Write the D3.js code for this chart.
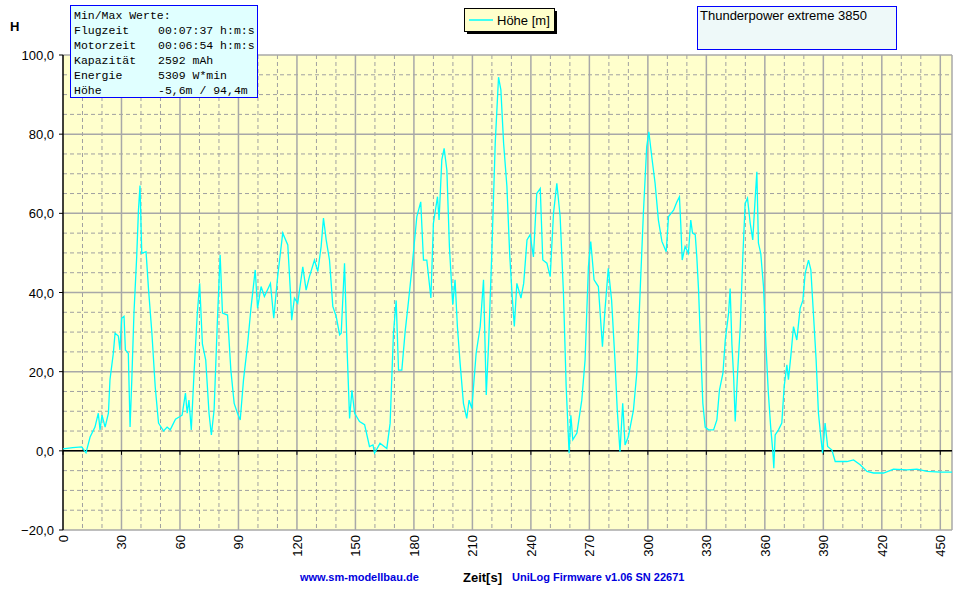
<!DOCTYPE html>
<html>
<head>
<meta charset="utf-8">
<script src="https://d3js.org/d3.v7.min.js"></script>
<style>
body { margin: 0; background: #fff; }
text { font-family: "Liberation Sans", Arial, sans-serif; }
.mono { font-family: "Liberation Mono", "DejaVu Sans Mono", monospace; font-size: 11.5px; }
</style>
</head>
<body>
<svg width="968" height="602"></svg>
<script>
// flight log: time [s] and height [m]
var zeit = [0,5,9.6,11.8,13.9,16.4,18.1,19,20,21.6,23.3,24.1,25.8,26.7,28.4,29.2,30.1,31.3,32,33.5,34.4,35.3,36.4,37.8,38.7,39.5,40.4,42.6,43.9,45.6,47.3,49,51.6,53.4,55,57.7,61.1,62.8,63.7,64.6,65.8,67.2,68.9,70.1,71.5,73.2,74.9,76.1,77.5,79.2,80.6,81.8,84.4,86.1,87.8,89.5,90.9,92.6,94.7,96.4,98.6,99.8,101.6,103.3,106.4,108.1,110.1,112.7,115.3,116.6,117.3,118.7,120.4,123,124.7,126.4,129,130.7,132.4,133.6,135,136.7,138.4,140.1,141.9,142.7,144.4,145.8,147,148.2,149.6,152.1,154.7,157.2,159,159.8,162.6,166.1,167.8,169.5,170.9,172.1,173.8,175.5,177.2,178.9,181.5,183.5,184.9,186.6,188.7,190,192.1,192.9,194.3,195.5,196.9,198.2,199.9,201.1,202.3,203.7,205.4,207.1,208.3,209.7,211.9,214,215.7,217.1,218.3,220,221.7,223.4,224.6,226,227.7,229.1,230.3,231.5,232.8,234.9,236.3,238,239.6,241.3,243,244.8,246.1,248.2,249.9,251.6,253.3,255,256.7,258.1,259.6,260.5,261.5,263.6,266.1,267.8,269.5,270.7,272.4,274.6,276.7,278,279.7,281.4,283.1,284.3,285.7,287.1,288.3,290,292.6,294.3,296,297.7,299.4,300.5,302,303.7,305.4,307.2,309.4,310.6,313.2,314.9,316.2,316.9,317.6,319.1,320.8,322,322.9,324.3,325.1,326,327.2,328.2,329.4,331.1,333.7,335.4,336.7,338.5,339.7,341.4,342.2,343.1,344,344.8,346,347.4,348.7,349.9,351.1,352.5,353.8,355,355.9,356.7,357.9,359.3,360.6,361.8,363,364.1,364.6,365.3,367,368.7,369.9,371.3,372.1,373.3,374.7,376.4,378.1,379.5,380.7,382.4,383.6,385,386.3,387.5,388.7,389.6,390.9,392.2,394.4,396.1,398.7,402.1,405.5,408.9,412.4,415.8,420.9,426,432.9,438,443.2,450,456];
var hoehe = [0.5,0.8,1,-0.5,3.5,6,9.5,5.3,9,6,9.5,18,24.6,29.7,29,25.5,33.5,34,25.5,24.6,6,18,34.8,49,60.8,67,49.9,50.3,40.6,29.7,16.2,7,5,6,5.3,8,9,14.6,9.5,12.8,5.3,19.6,34.8,42.3,27,23,9.5,4,10.3,33,49.5,34.8,34.3,20.4,12,9.5,7.8,18,27,36,45.7,36,41.5,39,42.3,33.5,44,55,52,40.6,33,38.6,37.3,46.5,40.6,44,48.2,45.3,51.6,58.8,53.3,48.2,36.5,34,29.3,29.7,47.4,24.6,8.2,15.3,9.5,7.4,6.6,1.1,1.5,-0.6,1.9,0.6,7,29.7,38,20.4,20.4,30.1,37.7,45.7,59.2,62.9,48.2,48.2,38.6,57.5,64.2,58.3,73.5,76.4,70.9,51.6,36.9,43.2,31.4,22.1,12,8.2,12.8,10.7,24.6,31.4,43.2,14.1,27,50.8,77.7,94.4,91.2,77.7,66.8,49.9,39.8,31.4,42.3,38.6,42.3,53.3,54.6,49,65,66.3,48.2,47.4,44,60,67.6,59.2,39.8,16.2,-0.6,9,2.8,4.5,12.8,23,46.5,52.9,43.2,41.5,26.3,35.6,46.1,38,23,10.3,-0.2,12,1.5,3.6,10.3,19.6,39.8,60,76.8,80.6,74.3,67.6,58.3,52.9,50.3,59.2,60.8,62.9,64.2,57,48.2,51.6,49.9,58.3,55,54.6,49,40.6,24.6,12,6,5.3,5.3,7.8,15.3,19.6,28,34.8,41,27,18.7,7.4,19.6,31.4,49,62.5,63.8,57.5,53.3,63.4,70.5,52.5,49.9,41.5,26.3,14.6,6,-0.2,-4.4,4,5.3,7,16.2,21.7,18,23.8,31.4,28,36,38,44.9,48.2,45.7,34,23,9.5,3.6,-0.6,7,1.1,0.2,-2.7,-2.7,-2.7,-2.3,-3.5,-5.2,-5.6,-5.6,-4.6,-4.8,-4.6,-5.2,-5.4,-5.4];
var xTicks = [0,30,60,90,120,150,180,210,240,270,300,330,360,390,420,450];
var yTicks = [-20,0,20,40,60,80,100];
var infoLabels = ["Flugzeit","Motorzeit","Kapazität","Energie","Höhe"];
var infoValues = ["00:07:37 h:m:s","00:06:54 h:m:s","2592 mAh","5309 W*min","-5,6m / 94,4m"];

var svg = d3.select("svg");
var L = 63, R = 952, T = 55, B = 530;
var x = d3.scaleLinear().domain([0, 456]).range([L, R]);
var y = d3.scaleLinear().domain([-20, 100]).range([B, T]);

svg.append("rect").attr("x", L).attr("y", T).attr("width", R - L).attr("height", B - T).attr("fill", "#ffffcc");

// minor grid
var g = svg.append("g");
g.selectAll(".mx").data(d3.range(10, 456, 10).filter(d => d % 30 != 0)).enter().append("line")
    .attr("x1", d => x(d)).attr("x2", d => x(d)).attr("y1", T).attr("y2", B)
    .attr("stroke", "#a0a0a0").attr("stroke-dasharray", "4,3");
g.selectAll(".my").data(d3.range(-15, 100, 5).filter(d => d % 20 != 0)).enter().append("line")
    .attr("y1", d => y(d)).attr("y2", d => y(d)).attr("x1", L).attr("x2", R)
    .attr("stroke", "#a0a0a0").attr("stroke-dasharray", "4,3");
// major grid
g.selectAll(".Mx").data(xTicks.slice(1)).enter().append("line")
    .attr("x1", d => x(d)).attr("x2", d => x(d)).attr("y1", T).attr("y2", B)
    .attr("stroke", "#a8a8a8").attr("stroke-width", 1.5);
g.selectAll(".My").data(yTicks).enter().append("line")
    .attr("y1", d => y(d)).attr("y2", d => y(d)).attr("x1", L).attr("x2", R)
    .attr("stroke", "#a8a8a8").attr("stroke-width", 1.5);
svg.append("line").attr("x1", R).attr("x2", R).attr("y1", T).attr("y2", B).attr("stroke", "#a8a8a8").attr("stroke-width", 1.5);

// zero line + left axis
svg.append("line").attr("x1", L).attr("x2", R).attr("y1", y(0)).attr("y2", y(0)).attr("stroke", "#000").attr("stroke-width", 1.5);
svg.selectAll(".xt").data(xTicks).enter().append("line")
    .attr("x1", d => x(d)).attr("x2", d => x(d)).attr("y1", y(0)).attr("y2", y(0) + 4).attr("stroke", "#000");
svg.append("line").attr("x1", L).attr("x2", L).attr("y1", T).attr("y2", B).attr("stroke", "#000").attr("stroke-width", 1.5);
svg.selectAll(".yt").data(yTicks).enter().append("line")
    .attr("x1", L - 4).attr("x2", L).attr("y1", d => y(d)).attr("y2", d => y(d)).attr("stroke", "#000");

svg.selectAll(".yl").data(yTicks).enter().append("text")
    .attr("x", L - 9).attr("y", d => y(d) + 5).attr("text-anchor", "end").attr("font-size", 13)
    .text(d => d3.format(".1f")(d).replace(".", ","));
svg.selectAll(".xl").data(xTicks).enter().append("text")
    .attr("transform", d => "translate(" + (x(d) + 5) + "," + (B + 5) + ") rotate(-90)")
    .attr("text-anchor", "end").attr("font-size", 13).text(d => d);

// data line
svg.append("path").datum(d3.zip(zeit, hoehe))
    .attr("d", d3.line().x(d => x(d[0])).y(d => y(d[1])))
    .attr("fill", "none").attr("stroke", "#00ffff").attr("stroke-width", 1.3);

svg.append("text").attr("x", 10).attr("y", 31).attr("font-size", 13).attr("font-weight", "bold").text("H");
svg.append("text").attr("x", 463).attr("y", 582).attr("font-size", 13).attr("font-weight", "bold").text("Zeit[s]");
svg.append("text").attr("x", 300).attr("y", 581).attr("font-size", 11).attr("font-weight", "bold").attr("fill", "#0000dd").text("www.sm-modellbau.de");
svg.append("text").attr("x", 512).attr("y", 581).attr("font-size", 11).attr("font-weight", "bold").attr("fill", "#0000dd").text("UniLog Firmware v1.06 SN 22671");

// info box
svg.append("rect").attr("x", 70.5).attr("y", 5.5).attr("width", 187).attr("height", 92).attr("fill", "#e0ffff").attr("stroke", "#0000ff");
svg.append("text").attr("class", "mono").attr("x", 74).attr("y", 19).text("Min/Max Werte:");
infoLabels.forEach(function (l, i) {
    svg.append("text").attr("class", "mono").attr("x", 74).attr("y", 34 + i * 15).text(l);
    svg.append("text").attr("class", "mono").attr("x", 158).attr("y", 34 + i * 15).text(infoValues[i]);
});

// legend
svg.append("rect").attr("x", 467).attr("y", 11).attr("width", 90).attr("height", 23).attr("fill", "#000");
svg.append("rect").attr("x", 464.5).attr("y", 8.5).attr("width", 90).attr("height", 23).attr("fill", "#ffffcc").attr("stroke", "#000");
svg.append("line").attr("x1", 469).attr("x2", 493).attr("y1", 20).attr("y2", 20).attr("stroke", "#00ffff").attr("stroke-width", 1.5);
svg.append("text").attr("x", 497).attr("y", 25).attr("font-size", 13).text("Höhe [m]");

// title box
svg.append("rect").attr("x", 697.5).attr("y", 6.5).attr("width", 199).attr("height", 43).attr("fill", "#eef9f9").attr("stroke", "#0000ff");
svg.append("text").attr("x", 700).attr("y", 20).attr("font-size", 13).text("Thunderpower extreme 3850");
</script>
</body>
</html>
